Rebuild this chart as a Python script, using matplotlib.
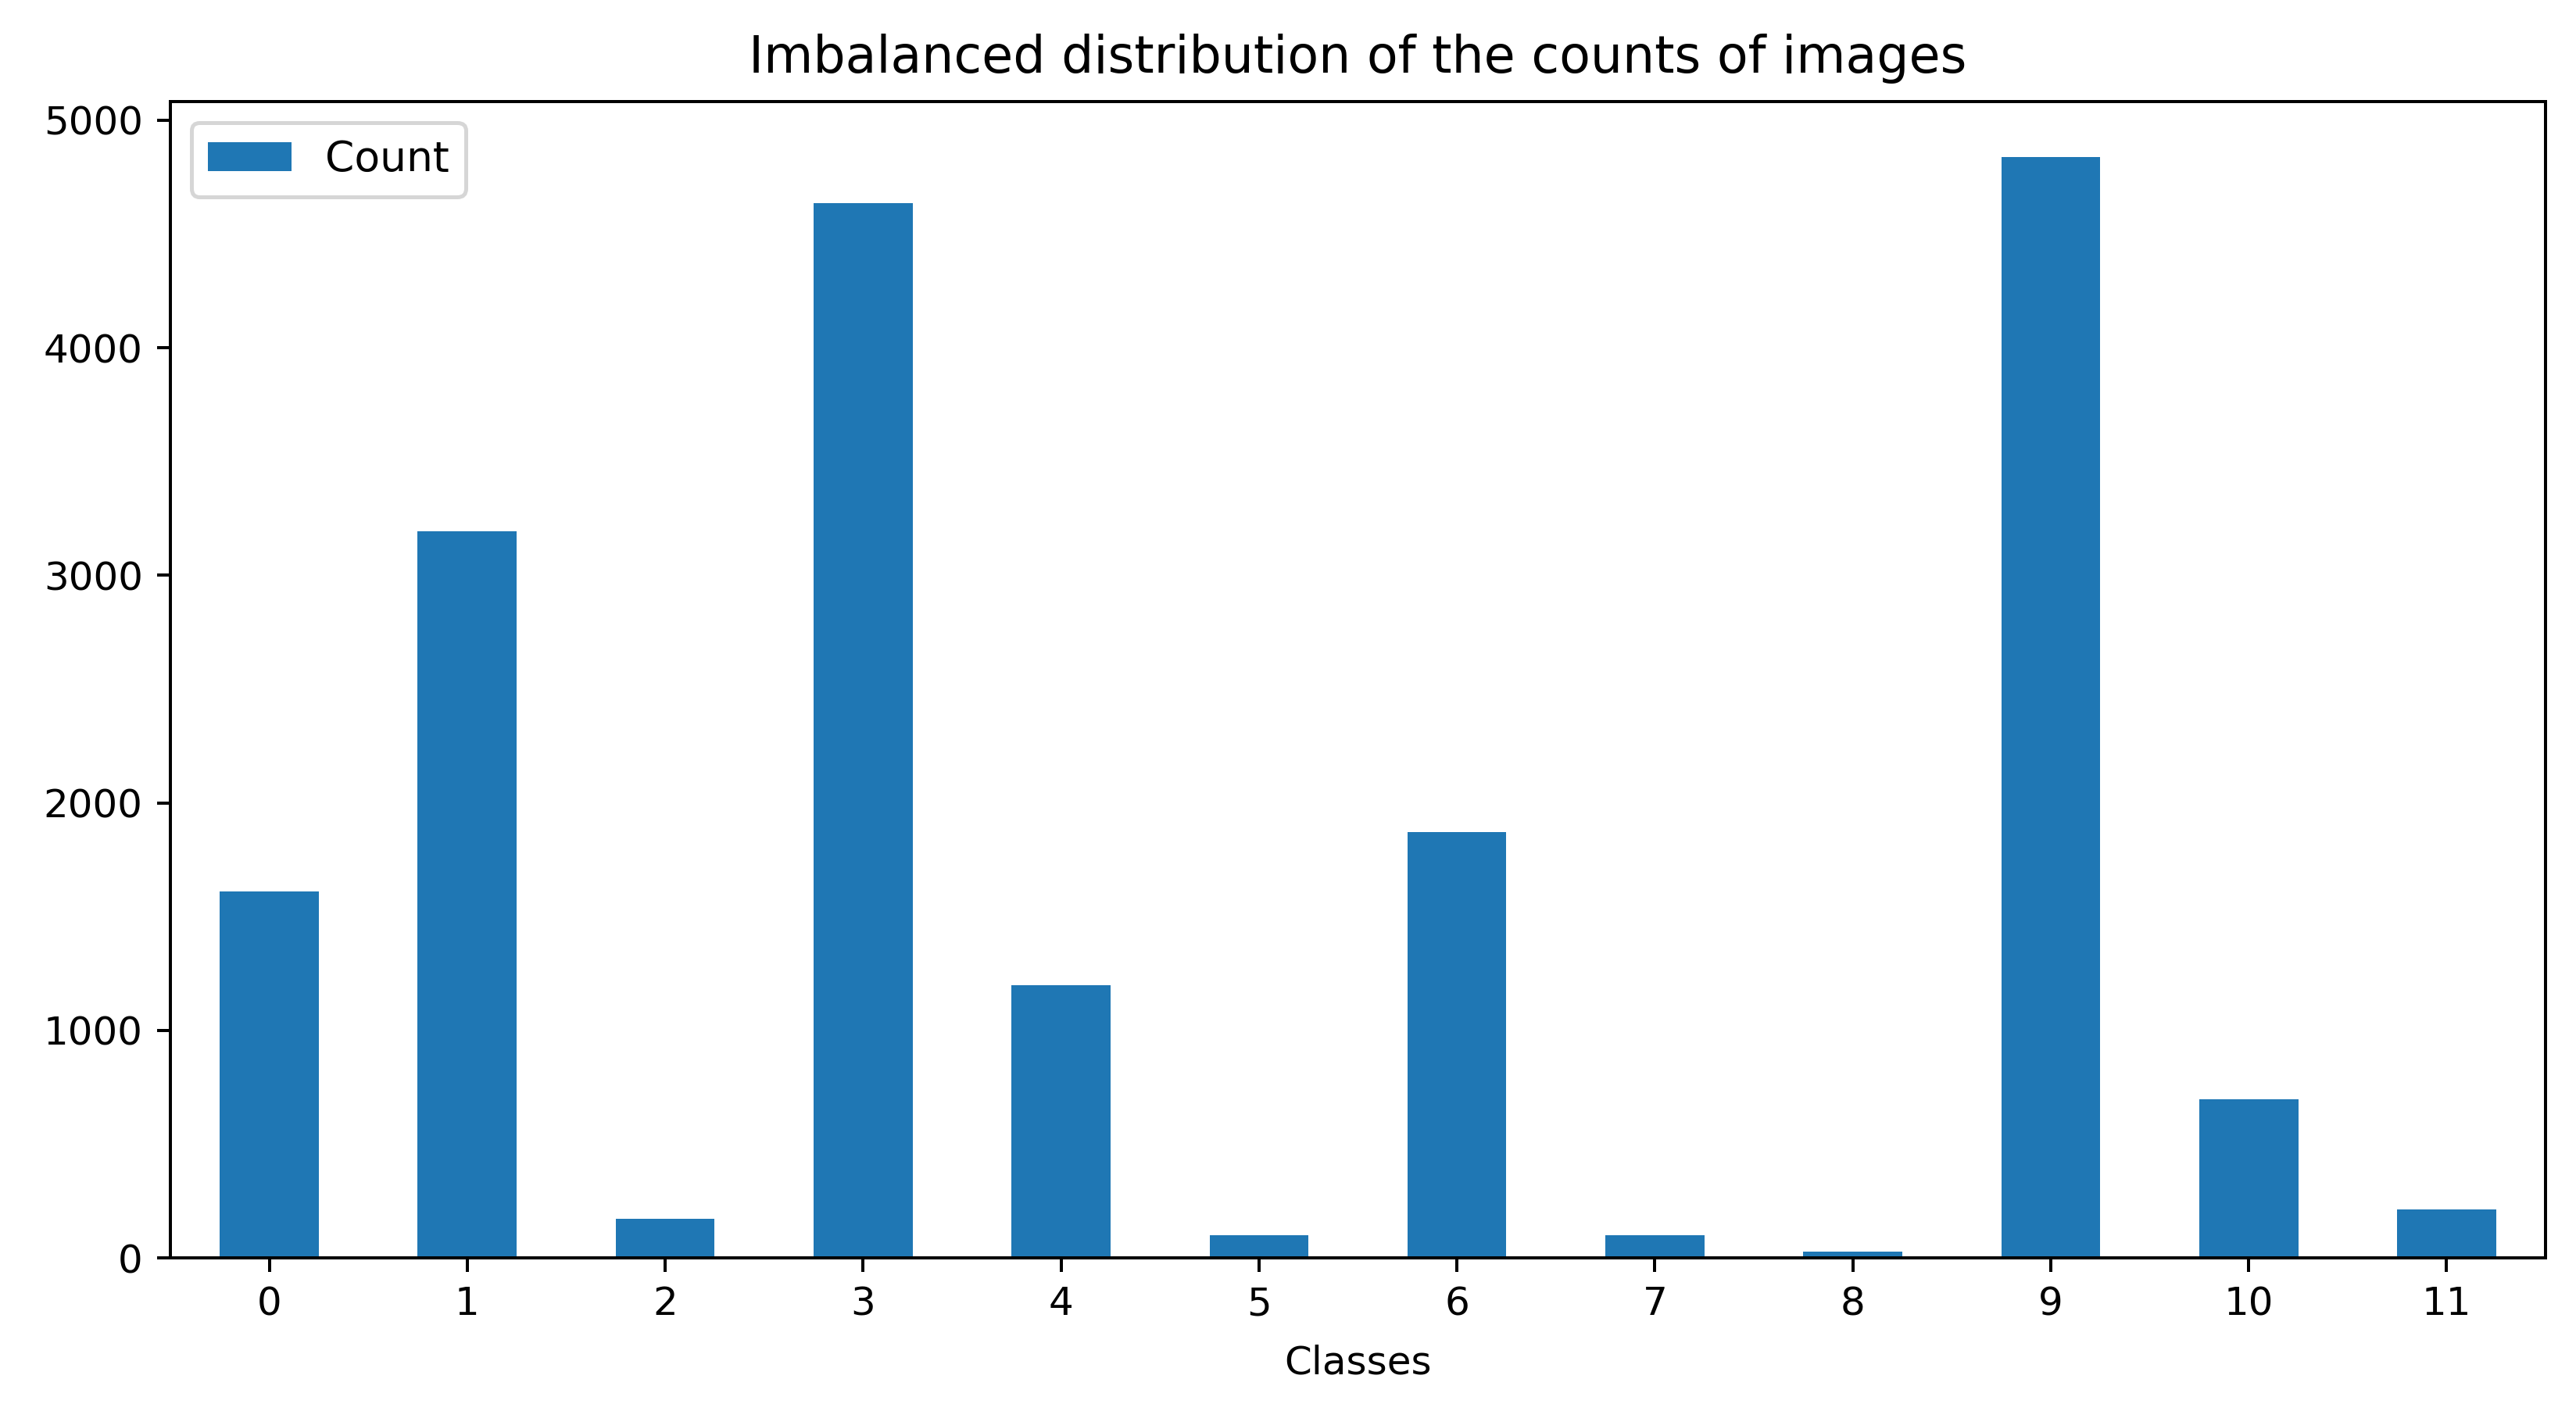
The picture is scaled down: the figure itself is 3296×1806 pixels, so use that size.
import matplotlib
matplotlib.use("Agg")
import matplotlib.pyplot as plt
import numpy as np

classes = ["0", "1", "2", "3", "4", "5", "6", "7", "8", "9", "10", "11"]
counts = [1612, 3195, 171, 4635, 1200, 101, 1870, 101, 26, 4840, 698, 212]

dpi = 360
fig = plt.figure(figsize=(3296 / dpi, 1806 / dpi), dpi=dpi)
ax = fig.add_axes([0.0661, 0.1085, 0.9221, 0.8195])

x = np.arange(len(classes))
ax.bar(x, counts, width=0.5, color="#1f77b4", label="Count")
ax.set_xlim(-0.5, len(classes) - 0.5)
ax.set_xticks(x)
ax.set_xticklabels(classes, rotation=0)
ax.set_xlabel("Classes", labelpad=5.5)
ax.set_title("Imbalanced distribution of the counts of images", fontsize=13, pad=7.5)
ax.legend(loc="upper left", fontsize=10.7)

fig.savefig("out.png", dpi=dpi)
